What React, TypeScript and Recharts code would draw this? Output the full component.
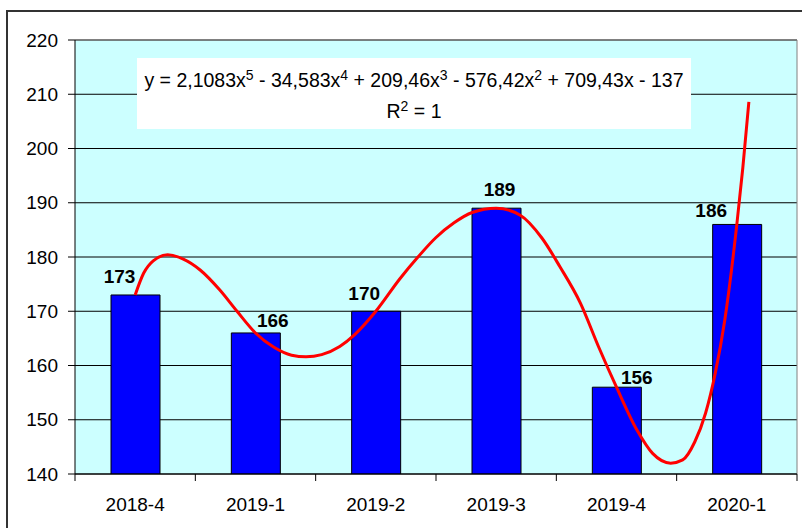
import React from 'react'
import { ComposedChart, Bar, Line, XAxis, YAxis, CartesianGrid, LabelList, ReferenceLine } from 'recharts'

const periods = ['2018-4', '2019-1', '2019-2', '2019-3', '2019-4', '2020-1']
const values = [173, 166, 170, 189, 156, 186]
const yTicks = [140, 150, 160, 170, 180, 190, 200, 210, 220]

// polynomial trend line (x = period number 1..6)
const trendX = [1.0, 1.07, 1.15, 1.27, 1.4, 1.54, 1.7, 1.85, 2.0, 2.15, 2.3, 2.42, 2.55, 2.7, 2.82, 3.0, 3.2, 3.35, 3.5, 3.65, 3.8, 4.0, 4.2, 4.38, 4.53, 4.7, 4.85, 5.0, 5.17, 5.3, 5.45, 5.55, 5.65, 5.74, 5.82, 5.9, 6.0, 6.05, 6.1]
const trendY = [173, 177, 179.3, 180.4, 179.6, 177.6, 174, 169.9, 166, 163.4, 161.9, 161.6, 162, 163.5, 165.6, 170, 176, 180, 183.6, 186.3, 188.2, 189, 187.7, 183.5, 178.2, 171.5, 163.5, 156, 148.1, 143.8, 142, 142.6, 145.9, 151.2, 158.5, 168.4, 186, 196.5, 208.6]

// labels were nudged by hand in the original
const labelDx = [-16, 17, -12, 3, 20, -26]
const labelGap = [12, 6, 11, 12, 3, 7]

const FONT = "Arial, 'Liberation Sans', sans-serif"

const chartData = periods.map((p, i) => ({ period: p, value: values[i] }))
const trendData = trendX.map((x, i) => ({ x, y: trendY[i] }))

function PeriodTick(props: any) {
  const { x, y, payload, index, width } = props
  const half = width / periods.length / 2
  return (
    <g>
      <line x1={x - half} y1={y} x2={x - half} y2={y + 7} stroke="#000" />
      {index === periods.length - 1 && <line x1={x + half} y1={y} x2={x + half} y2={y + 7} stroke="#000" />}
      <text x={x} y={y + 37} textAnchor="middle" fontSize={19} fontFamily={FONT} fill="#000">
        {payload.value}
      </text>
    </g>
  )
}

function ValueLabel(props: any) {
  const { x, y, width, value, index } = props
  return (
    <text
      x={x + width / 2 + labelDx[index]}
      y={y - labelGap[index]}
      textAnchor="middle"
      fontSize={19}
      fontWeight="bold"
      fontFamily={FONT}
      fill="#000"
    >
      {value}
    </text>
  )
}

const supStyle = { fontSize: 14, lineHeight: 0 }

export default function App() {
  return (
    <div style={{ position: 'absolute', left: 0, top: 0, width: 802, height: 528, background: '#fff', overflow: 'hidden', fontFamily: FONT }}>
      <div style={{ position: 'absolute', left: 6, top: 10, width: 900, height: 700, border: '2px solid #333' }} />
      <div style={{ position: 'absolute', left: 0, top: 0 }}>
        <ComposedChart width={802} height={528} data={chartData} margin={{ top: 40, right: 5, bottom: 0, left: 0 }}>
          <CartesianGrid xAxisId="cat" vertical={false} stroke="#000" fill="#CCFFFF" />
          <XAxis
            xAxisId="cat"
            dataKey="period"
            height={54}
            interval={0}
            tickSize={0}
            tickMargin={0}
            tickLine={false}
            axisLine={{ stroke: '#000' }}
            tick={<PeriodTick />}
          />
          <XAxis xAxisId="num" type="number" dataKey="x" domain={[0.5, 6.5]} hide allowDataOverflow />
          <YAxis
            domain={[140, 220]}
            ticks={yTicks}
            width={75}
            tickSize={7}
            tickMargin={10}
            allowDataOverflow
            axisLine={{ stroke: '#000' }}
            tickLine={{ stroke: '#000' }}
            tick={{ fontSize: 19, fill: '#000', fontFamily: FONT }}
          />
          <ReferenceLine xAxisId="num" y={220} stroke="#808080" />
          <ReferenceLine xAxisId="num" x={6.5} stroke="#808080" />
          <Bar xAxisId="cat" dataKey="value" fill="#0000FF" stroke="#000" strokeWidth={1} barSize={49} isAnimationActive={false}>
            <LabelList dataKey="value" content={<ValueLabel />} />
          </Bar>
          <Line
            xAxisId="num"
            data={trendData}
            dataKey="y"
            type="monotone"
            stroke="#FF0000"
            strokeWidth={3}
            dot={false}
            activeDot={false}
            isAnimationActive={false}
          />
        </ComposedChart>
      </div>
      <div
        style={{
          position: 'absolute',
          left: 137,
          top: 58,
          width: 554,
          height: 71,
          background: '#fff',
          textAlign: 'center',
          fontSize: 19.5,
          lineHeight: '31px',
          paddingTop: 7,
          boxSizing: 'border-box',
          color: '#000',
          whiteSpace: 'nowrap',
        }}
      >
        <div>
          y = 2,1083x<sup style={supStyle}>5</sup> - 34,583x<sup style={supStyle}>4</sup> + 209,46x<sup style={supStyle}>3</sup> - 576,42x
          <sup style={supStyle}>2</sup> + 709,43x - 137
        </div>
        <div>
          R<sup style={supStyle}>2</sup> = 1
        </div>
      </div>
    </div>
  )
}
